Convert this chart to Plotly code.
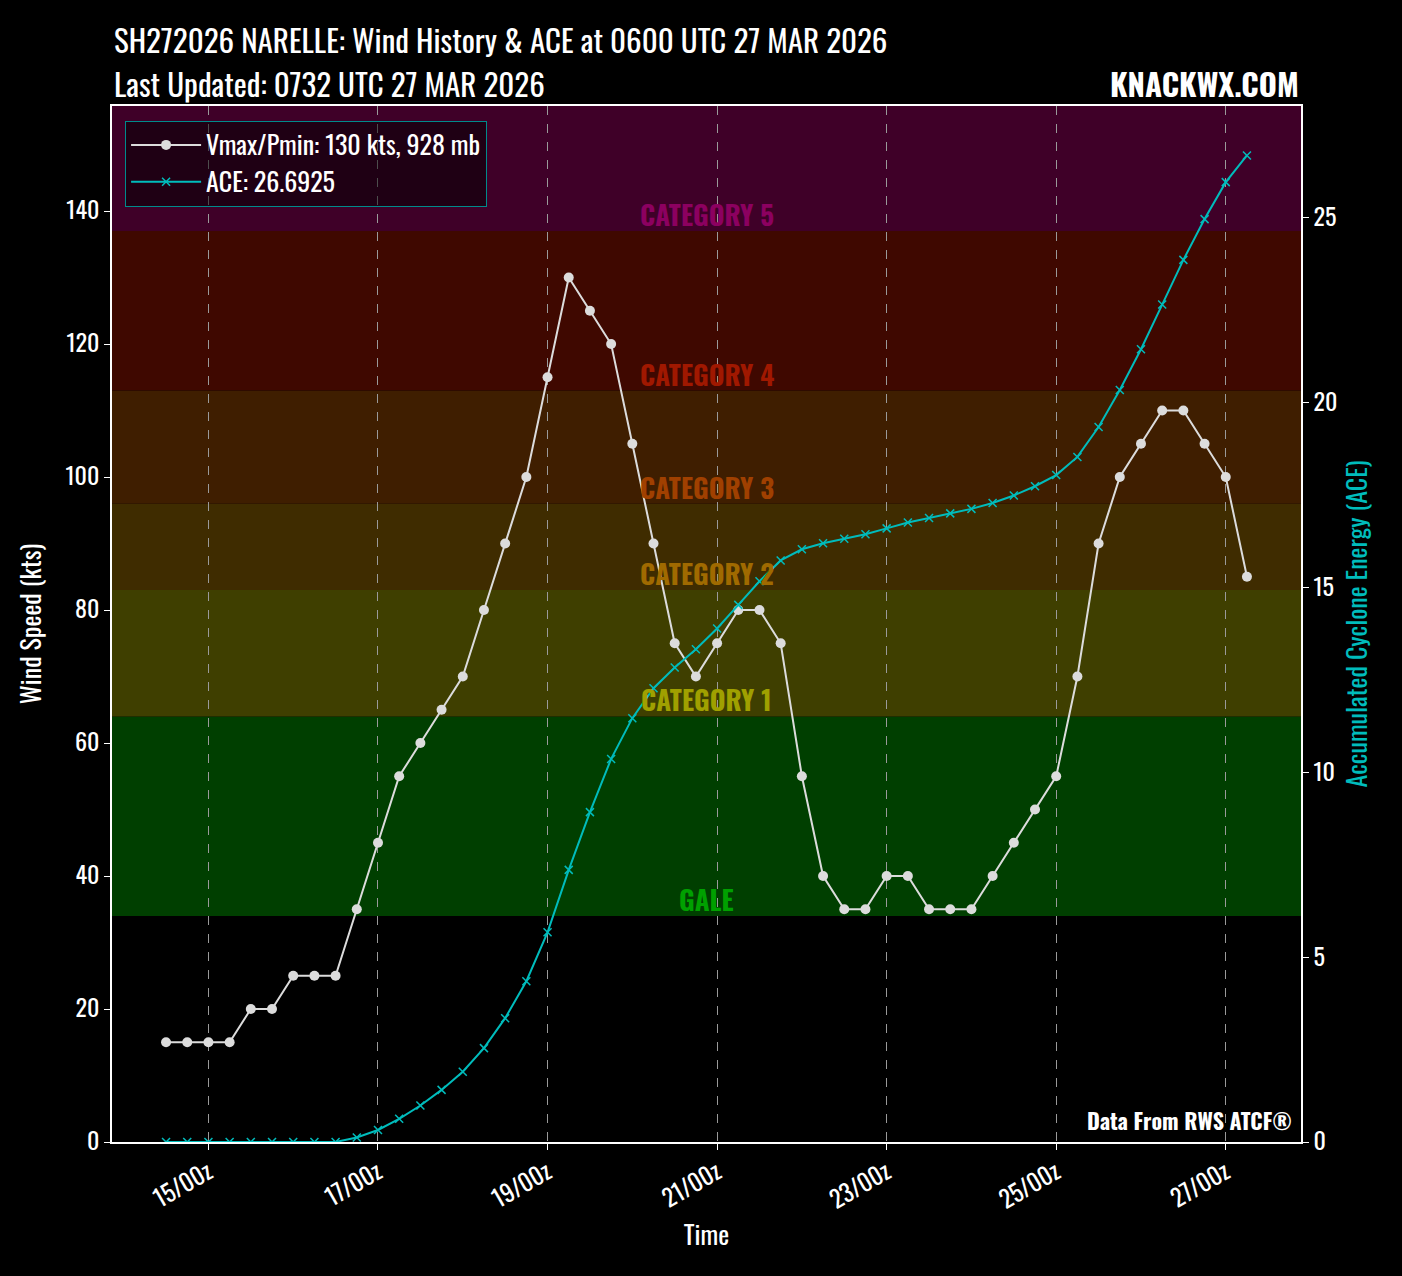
import pandas as pd
import plotly.graph_objects as go

# 6-hourly best track, 14/12z .. 27/06z
times = pd.date_range("2026-03-14 12:00", "2026-03-27 06:00", freq="6h")
vmax = [15, 15, 15, 15, 20, 20, 25, 25, 25, 35,
        45, 55, 60, 65, 70, 80, 90, 100, 115, 130,
        125, 120, 105, 90, 75, 70, 75, 80, 80, 75,
        55, 40, 35, 35, 40, 40, 35, 35, 35, 40,
        45, 50, 55, 70, 90, 100, 105, 110, 110, 105,
        100, 85]
ace = [0, 0, 0, 0, 0, 0, 0, 0, 0, 0.1225,
       0.325, 0.6275, 0.9875, 1.41, 1.90, 2.54, 3.35, 4.35, 5.6725, 7.3625,
       8.925, 10.365, 11.4675, 12.2775, 12.84, 13.33, 13.8925, 14.5325, 15.1725, 15.735,
       16.0375, 16.1975, 16.32, 16.4425, 16.6025, 16.7625, 16.885, 17.0075, 17.13, 17.29,
       17.4925, 17.7425, 18.045, 18.535, 19.345, 20.345, 21.4475, 22.6575, 23.8675, 24.97,
       25.97, 26.6925]

band_names = ["GALE", "CATEGORY 1", "CATEGORY 2", "CATEGORY 3", "CATEGORY 4", "CATEGORY 5"]
band_lo = [34, 64, 83, 96, 113, 137]
band_hi = [64, 83, 96, 113, 137, 155.8]
band_fill = ["#003f00", "#3f3f00", "#3f2c00", "#3f1e00", "#3f0800", "#3f0028"]
band_text = ["#00a000", "#a0a000", "#a06a00", "#a04000", "#a01800", "#8c0060"]

tick_vals = pd.date_range("2026-03-15", "2026-03-27", freq="2D")
tick_text = [t.strftime("%d/%Hz") for t in tick_vals]

FONT = "Oswald, 'Liberation Sans Narrow', 'DejaVu Sans Condensed', 'Roboto', sans-serif"
WHITE = "#ffffff"
ACE_C = "#00bcbc"
VMAX_C = "#dcdcdc"

pad = pd.Timedelta(hours=15.3)

fig = go.Figure()
fig.add_trace(go.Scatter(
    x=times, y=vmax, mode="lines+markers", name="Vmax/Pmin: 130 kts, 928 mb",
    line=dict(color=VMAX_C, width=2), marker=dict(color=VMAX_C, size=10, symbol="circle"),
))
fig.add_trace(go.Scatter(
    x=times, y=ace, mode="lines+markers", name="ACE: 26.6925", yaxis="y2",
    line=dict(color=ACE_C, width=2),
    marker=dict(color=ACE_C, size=8, symbol="x-thin", line=dict(color=ACE_C, width=1.5)),
))

for lo, hi, fc, tc, name in zip(band_lo, band_hi, band_fill, band_text, band_names):
    fig.add_shape(type="rect", xref="paper", yref="y", x0=0, x1=1, y0=lo, y1=hi,
                  fillcolor=fc, line=dict(width=0), layer="below")
    fig.add_annotation(x=0.5, y=lo, xref="paper", yref="y", text=f"<b>{name}</b>",
                       showarrow=False, yanchor="bottom", yshift=-5,
                       font=dict(family=FONT, size=27, color=tc))

fig.add_annotation(x=0, y=1.0, xref="paper", yref="paper", yshift=42, xanchor="left", yanchor="bottom",
                   text="SH272026 NARELLE: Wind History & ACE at 0600 UTC 27 MAR 2026",
                   showarrow=False, font=dict(family=FONT, size=31, color=WHITE))
fig.add_annotation(x=0, y=1.0, xref="paper", yref="paper", yshift=-2, xanchor="left", yanchor="bottom",
                   text="Last Updated: 0732 UTC 27 MAR 2026",
                   showarrow=False, font=dict(family=FONT, size=31, color=WHITE))
fig.add_annotation(x=1, y=1.0, xref="paper", yref="paper", yshift=-2, xanchor="right", yanchor="bottom",
                   text="<b>KNACKWX.COM</b>",
                   showarrow=False, font=dict(family=FONT, size=31, color=WHITE))
fig.add_annotation(x=0.994, y=0.0, xref="paper", yref="paper", yshift=4, xanchor="right", yanchor="bottom",
                   text="<b>Data From RWS ATCF®</b>",
                   showarrow=False, font=dict(family=FONT, size=22, color=WHITE))

fig.update_layout(
    width=1402, height=1276,
    paper_bgcolor="#000000", plot_bgcolor="#000000",
    font=dict(family=FONT, color=WHITE, size=24),
    margin=dict(l=112, r=101, t=106, b=134),
    showlegend=True,
    legend=dict(x=0.011, y=0.986, xanchor="left", yanchor="top",
                bgcolor="rgba(0,0,0,0.5)", bordercolor="#008b8b", borderwidth=1,
                font=dict(family=FONT, size=26, color=WHITE), itemwidth=70,
                tracegroupgap=4),
    xaxis=dict(
        range=[times[0] - pad, times[-1] + pad],
        tickvals=tick_vals, ticktext=tick_text, tickangle=-30,
        ticks="outside", ticklen=6, tickcolor=WHITE, tickfont=dict(size=24, color=WHITE),
        showgrid=True, gridcolor="#9a9a9a", griddash="dash", gridwidth=1,
        showline=True, linecolor=WHITE, linewidth=1.5, mirror=True,
        zeroline=False,
        title=dict(text="Time", font=dict(size=26, color=WHITE), standoff=4),
    ),
    yaxis=dict(
        range=[0, 155.8], tickvals=[0, 20, 40, 60, 80, 100, 120, 140],
        ticks="outside", ticklen=6, tickcolor=WHITE, tickfont=dict(size=24, color=WHITE),
        showgrid=False, zeroline=False,
        showline=True, linecolor=WHITE, linewidth=1.5,
        title=dict(text="Wind Speed (kts)", font=dict(size=26, color=WHITE), standoff=16),
    ),
    yaxis2=dict(
        range=[0, 28.03], overlaying="y", side="right", tickvals=[0, 5, 10, 15, 20, 25],
        ticks="outside", ticklen=6, tickcolor=WHITE, tickfont=dict(size=24, color=WHITE),
        showgrid=False, zeroline=False,
        showline=True, linecolor=WHITE, linewidth=1.5,
        title=dict(text="Accumulated Cyclone Energy (ACE)", font=dict(size=26, color=ACE_C), standoff=12),
    ),
)

fig.write_html("out.html", config={"displayModeBar": False},
               post_script="document.body.style.margin='0';")
